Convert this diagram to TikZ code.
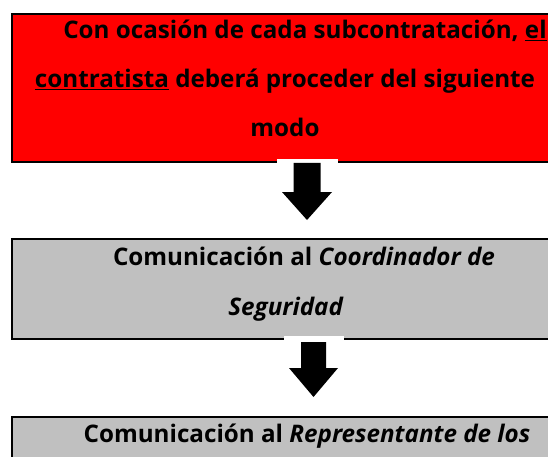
\documentclass[tikz,border=0pt]{standalone}
\usepackage{fontspec}
\setmainfont{Open Sans}
\definecolor{boxgray}{HTML}{C0C0C0}
\definecolor{boxred}{HTML}{FF0000}
\tikzset{
  box/.style={draw=black, line width=2.4pt, inner sep=0pt, anchor=north west, minimum width=600pt},
  redbox/.style={box, fill=boxred},
  graybox/.style={box, fill=boxgray},
  linetext/.style={font=\fontsize{24.2}{29}\selectfont\bfseries, anchor=base, inner sep=0pt},
  arrowbg/.style={fill=white},
  arrowfill/.style={fill=black},
}
\begin{document}
\begin{tikzpicture}[x=1pt,y=-1pt]
\useasboundingbox (0,0) rectangle (548,457);
\clip (0,0) rectangle (548,457);
\fill[white] (0,0) rectangle (548,457);
% boxes
\node[redbox, minimum height=148pt] (b1) at (11,13) {};
\node[graybox, minimum height=100pt] (b2) at (11,238) {};
\node[graybox, minimum height=100pt] (b3) at (11,416) {};
% texts
\node[linetext] (t11) at (305,39) {Con ocasión de cada subcontratación, \underline{el}};
\node[linetext] (t12) at (285,88) {\underline{contratista} deberá proceder del siguiente};
\node[linetext] (t13) at (285,137) {modo};
\node[linetext] (t21) at (304,265) {Comunicación al \textit{Coordinador de}};
\node[linetext] (t22) at (286,315) {\textit{Seguridad}};
\node[linetext] (t31) at (307,442) {Comunicación al \textit{Representante de los}};
% arrows
\fill[arrowbg] (277,159) rectangle (338,224);
\fill[arrowfill] (293.5,163) -- (320.5,163) -- (320.5,192) -- (332,192) -- (307,220) -- (282,192) -- (293.5,192) -- cycle;
\fill[arrowbg] (284,336) rectangle (344,400);
\fill[arrowfill] (301,342) -- (326,342) -- (326,368) -- (338,368) -- (313.5,397) -- (289,368) -- (301,368) -- cycle;
\end{tikzpicture}
\end{document}
